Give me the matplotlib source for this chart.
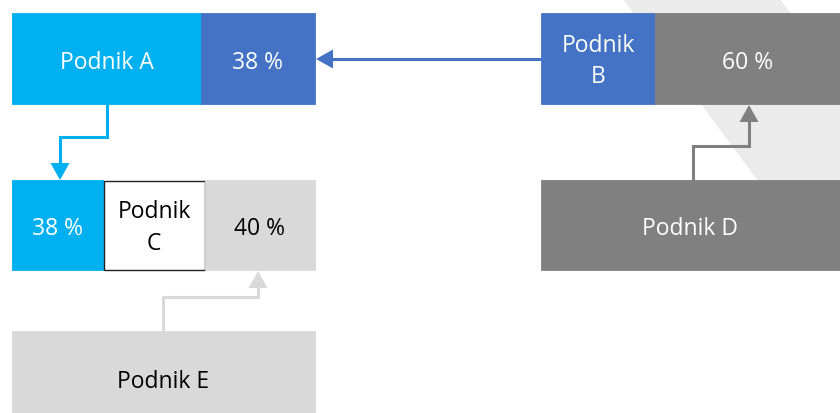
import matplotlib
matplotlib.use("Agg")
import matplotlib.pyplot as plt
from matplotlib.patches import Rectangle, Polygon

plt.rcParams['font.family'] = ['Open Sans', 'DejaVu Sans']

# ---- content ----
companies = ["Podnik A", "Podnik B", "Podnik C", "Podnik D", "Podnik E"]
shares = {"A_in_C": "38 %", "B_in_A": "38 %", "E_in_C": "40 %", "D_in_B": "60 %"}

CYAN = "#00B0F0"
BLUE = "#4472C4"
DGRAY = "#808080"
LGRAY = "#D9D9D9"
STRIPE = "#EBEBEB"

fig = plt.figure(figsize=(8.4, 4.14), dpi=100)
ax = fig.add_axes([0, 0, 1, 1])
ax.set_xlim(0, 840)
ax.set_ylim(414, 0)
ax.axis('off')

# background diagonal stripe
ax.add_patch(Polygon([(623, 0), (780, 0), (840, 81), (840, 271), (824, 271)],
                     closed=True, facecolor=STRIPE, edgecolor='none', zorder=0))

FS = 16.5

def box(x0, x1, y0, y1, fc, text, tc, ec=None, lw=0, dy=3.5):
    ax.add_patch(Rectangle((x0, y0), x1 - x0, y1 - y0, facecolor=fc,
                           edgecolor=ec if ec else fc, linewidth=lw if ec else 0.6, zorder=2))
    ax.text((x0 + x1) / 2, (y0 + y1) / 2 + dy, text, color=tc, fontsize=FS,
            ha='center', va='center', zorder=3, linespacing=1.42)

# Row 1 left: A with B's share
box(12, 201, 14, 105, CYAN, companies[0], 'white')
box(201, 315, 14, 105, BLUE, shares["B_in_A"], 'white')
# Row 1 right: B with D's share
box(541, 655, 14, 105, BLUE, companies[1].replace(" ", "\n"), 'white', dy=2)
box(655, 840, 14, 105, DGRAY, shares["D_in_B"], 'white')
# Row 2 left: C with A and E shares
box(12, 103, 181, 271, CYAN, shares["A_in_C"], 'white')
box(103.5, 205, 181.5, 270.5, 'white', companies[2].replace(" ", "\n"), 'black',
    ec='#222222', lw=1.0, dy=2)
box(205, 315, 181, 271, LGRAY, shares["E_in_C"], 'black')
# Row 2 right: D
box(541, 840, 181, 271, DGRAY, companies[3], 'white')
# Row 3: E
box(12, 315, 332, 426, LGRAY, companies[4], 'black')

def elbow_arrow(pts, color, head_dir):
    xs = [p[0] for p in pts]
    ys = [p[1] for p in pts]
    tipx, tipy = pts[-1]
    hl, hw = 17, 9.5
    if head_dir == 'down':
        base = (tipx, tipy - hl)
        tri = [(tipx, tipy), (tipx - hw, tipy - hl), (tipx + hw, tipy - hl)]
    elif head_dir == 'up':
        base = (tipx, tipy + hl)
        tri = [(tipx, tipy), (tipx - hw, tipy + hl), (tipx + hw, tipy + hl)]
    else:  # left
        base = (tipx + hl, tipy)
        tri = [(tipx, tipy), (tipx + hl, tipy - hw), (tipx + hl, tipy + hw)]
    xs[-1], ys[-1] = base
    ax.plot(xs, ys, color=color, lw=2.2, solid_joinstyle='miter', zorder=1)
    ax.add_patch(Polygon(tri, closed=True, facecolor=color, edgecolor='none', zorder=1))

# B -> A
elbow_arrow([(541, 60), (316, 60)], BLUE, 'left')
# A -> C
elbow_arrow([(107, 105), (107, 138), (60, 138), (60, 181)], CYAN, 'down')
# E -> C
elbow_arrow([(163, 332), (163, 298), (258, 298), (258, 272)], LGRAY, 'up')
# D -> B
elbow_arrow([(693, 181), (693, 147), (749, 147), (749, 106)], DGRAY, 'up')

fig.savefig("out.png", dpi=100)
